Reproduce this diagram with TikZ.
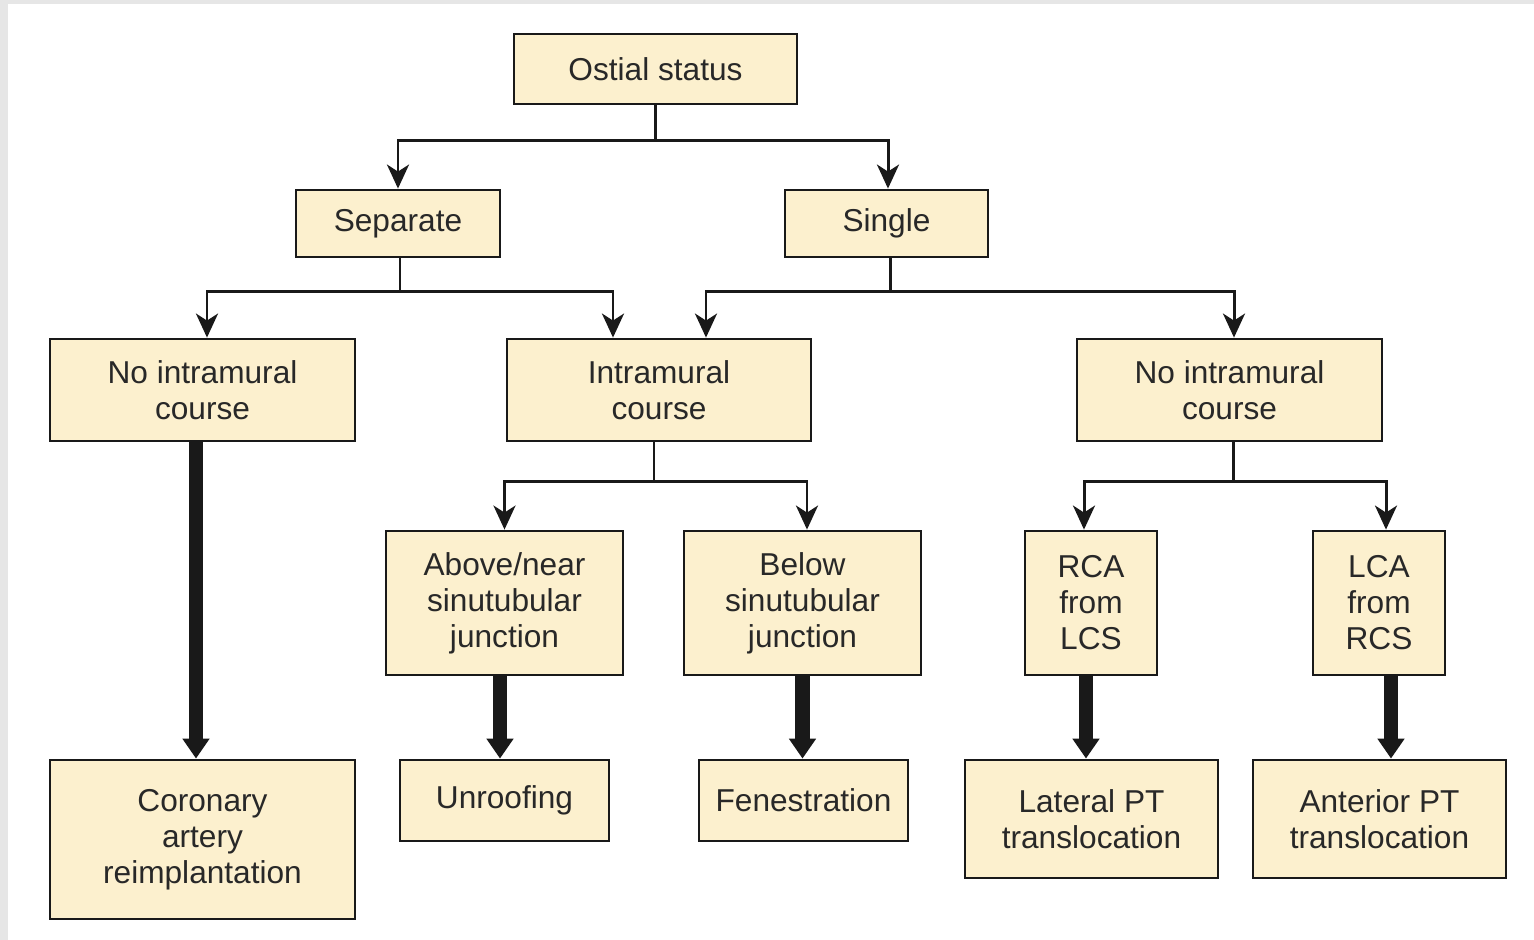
\documentclass[tikz,border=0pt]{standalone}
\usepackage{fontspec}
\setmainfont{Liberation Sans}
\usetikzlibrary{arrows.meta}

\definecolor{boxfill}{RGB}{252,240,206}
\definecolor{inkgray}{RGB}{40,40,40}
\definecolor{framegray}{RGB}{230,230,230}

\begin{document}
\begin{tikzpicture}[
    x=0.2mm, y=-0.2mm,
    box/.style={
        rectangle,
        draw=black!90,
        line width=1.6pt,
        fill=boxfill,
        text=inkgray,
        align=center,
        inner sep=0pt,
        font=\fontsize{18}{20.5}\selectfont,
        },
    Link/.style={
        line width=1.7pt,
        draw=black!90,
        },
    LinkTip/.style={
        Link,
        -{Stealth[length=0.48cm,width=0.44cm,inset=0.14cm]},
        },
    Heavy/.style={
        line width=8pt,
        draw=black!90,
        -{Triangle[length=0.4cm,width=0.52cm]},
        },
    ]

    % frame of the page
    \fill [framegray] (0,0) rectangle (1534,940);
    \fill [white] (8,4) rectangle (1534,940);
    \useasboundingbox (0,0) rectangle (1534,940);

    % level 1 and 2
    \node [box, minimum width=5.66cm, minimum height=1.4cm] (ostial) at (655.5,69) {Ostial status};
    \node [box, minimum width=4.08cm, minimum height=1.34cm] (sep) at (398,223.5) {Separate};
    \node [box, minimum width=4.06cm, minimum height=1.34cm] (single) at (886.5,223.5) {Single};

    % level 3
    \node [box, minimum width=6.1cm, minimum height=2.04cm] (nointraL) at (202.5,390) {No intramural\\course};
    \node [box, minimum width=6.08cm, minimum height=2.04cm] (intra) at (659,390) {Intramural\\course};
    \node [box, minimum width=6.1cm, minimum height=2.04cm] (nointraR) at (1229.5,390) {No intramural\\course};

    % level 4
    \node [box, minimum width=4.74cm, minimum height=2.88cm] (above) at (504.5,603) {Above/near\\sinutubular\\junction};
    \node [box, minimum width=4.74cm, minimum height=2.88cm] (below) at (802.5,603) {Below\\sinutubular\\junction};
    \node [box, minimum width=2.64cm, minimum height=2.88cm] (rca) at (1091,603) {RCA\\from\\LCS};
    \node [box, minimum width=2.64cm, minimum height=2.88cm] (lca) at (1379,603) {LCA\\from\\RCS};

    % treatments
    \node [box, minimum width=6.1cm, minimum height=3.18cm] (reimpl) at (202.5,839.5) {Coronary\\artery\\reimplantation};
    \node [box, minimum width=4.18cm, minimum height=1.62cm] (unroof) at (504.5,800.5) {Unroofing};
    \node [box, minimum width=4.18cm, minimum height=1.62cm] (fenest) at (803.5,800.5) {Fenestration};
    \node [box, minimum width=5.06cm, minimum height=2.36cm] (lateral) at (1091.5,819) {Lateral PT\\translocation};
    \node [box, minimum width=5.06cm, minimum height=2.36cm] (anterior) at (1379.5,819) {Anterior PT\\translocation};

    % thin forks
    \draw [Link] (ostial.south) -- ++(0,35) coordinate (f1);
    \draw [LinkTip] (f1) -| (sep.north);
    \draw [LinkTip] (f1) -| ([xshift=0.3mm]single.north);

    \draw [Link] ([xshift=0.4mm]sep.south) -- ++(0,33) coordinate (f2);
    \draw [LinkTip] (f2) -| ([xshift=0.9mm]nointraL.north);
    \draw [LinkTip] (f2) -| ([xshift=-9.2mm]intra.north);

    \draw [Link] ([xshift=0.7mm]single.south) -- ++(0,33) coordinate (f3);
    \draw [LinkTip] (f3) -| ([xshift=9.4mm]intra.north);
    \draw [LinkTip] (f3) -| ([xshift=0.9mm]nointraR.north);

    \draw [Link] ([xshift=-1mm]intra.south) -- ++(0,39) coordinate (f4);
    \draw [LinkTip] (f4) -| (above.north);
    \draw [LinkTip] (f4) -| ([xshift=0.9mm]below.north);

    \draw [Link] ([xshift=0.7mm]nointraR.south) -- ++(0,39) coordinate (f5);
    \draw [LinkTip] (f5) -| ([xshift=-1.4mm]rca.north);
    \draw [LinkTip] (f5) -| ([xshift=1.4mm]lca.north);

    % heavy arrows to the treatments
    \draw [Heavy] ([xshift=-1.3mm]nointraL.south) -- ([xshift=-1.3mm]reimpl.north);
    \draw [Heavy] ([xshift=-0.9mm]above.south) -- ([xshift=-0.9mm]unroof.north);
    \draw [Heavy] (below.south) -- (below.south |- fenest.north);
    \draw [Heavy] ([xshift=-1mm]rca.south) -- ([xshift=-1mm]rca.south |- lateral.north);
    \draw [Heavy] ([xshift=2.4mm]lca.south) -- ([xshift=2.4mm]lca.south |- anterior.north);

\end{tikzpicture}
\end{document}
